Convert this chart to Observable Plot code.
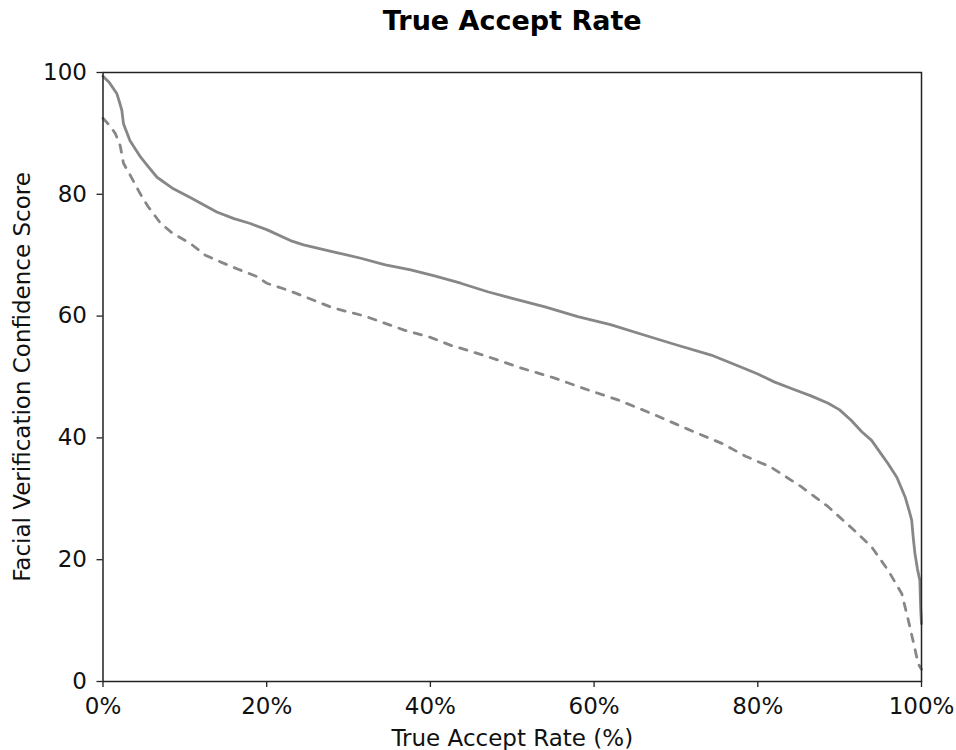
<!DOCTYPE html>
<html>
<head>
<meta charset="utf-8">
<script src="https://cdn.jsdelivr.net/npm/d3@7"></script>
<script src="https://cdn.jsdelivr.net/npm/@observablehq/plot@0.6"></script>
<style>
  html, body { margin: 0; padding: 0; background: #fff; }
  svg { font-family: "DejaVu Sans", sans-serif; }
</style>
</head>
<body>
<div id="chart"></div>
<script>
// Solid curve: x = true accept rate (%), y = confidence score
const solidX = [0, 0.8, 1.7, 2.0, 2.3, 2.5, 3.3, 4.6, 5.5, 6.6, 8.6, 10.6, 12.0, 13.9, 16.0, 18.0, 20.0, 22.9, 24.5, 28.0, 31.5, 34.5, 37.6, 40.5, 43.7, 47.0, 50.0, 54.0, 58.0, 62.0, 66.1, 70.0, 74.3, 78.0, 80.0, 82.0, 84.5, 86.5, 88.6, 90.0, 91.4, 92.7, 93.9, 95.0, 95.9, 97.0, 98.0, 98.5, 98.8, 99.0, 99.2, 99.5, 99.8, 99.9, 100];
const solidY = [99.4, 98.3, 96.5, 95.2, 93.8, 91.6, 88.8, 86.1, 84.6, 82.8, 80.9, 79.5, 78.5, 77.1, 76.0, 75.2, 74.2, 72.4, 71.7, 70.6, 69.5, 68.4, 67.6, 66.6, 65.4, 64.0, 62.9, 61.5, 59.9, 58.6, 56.9, 55.3, 53.6, 51.6, 50.5, 49.2, 47.9, 46.9, 45.7, 44.6, 42.9, 41.0, 39.6, 37.5, 35.8, 33.5, 30.3, 28.0, 26.5, 23.5, 21.0, 18.5, 16.6, 12.0, 9.5];

// Dashed curve
const dashedX = [0, 0.8, 1.5, 2.1, 2.5, 3.3, 4.5, 5.5, 7.0, 8.5, 10.6, 12.5, 14.7, 16.5, 18.8, 20.0, 22.5, 25.0, 28.2, 32.0, 36.8, 40.0, 42.5, 45.0, 48.0, 51.0, 55.0, 59.2, 63.0, 67.4, 71.5, 75.6, 78.5, 81.6, 85.3, 88.6, 91.8, 93.9, 95.9, 97.6, 98.4, 99.0, 99.6, 100];
const dashedY = [92.5, 91.3, 90.0, 88.0, 85.1, 83.2, 80.2, 78.0, 75.3, 73.6, 72.0, 70.0, 68.7, 67.7, 66.5, 65.4, 64.3, 63.0, 61.3, 60.0, 57.7, 56.5, 55.2, 54.2, 52.9, 51.5, 49.9, 47.9, 46.2, 43.8, 41.4, 39.1, 37.0, 35.2, 32.0, 28.7, 24.8, 22.1, 18.3, 14.4, 10.0, 6.5, 2.9, 2.0];

const xTicks = [0, 20, 40, 60, 80, 100];
const yTicks = [0, 20, 40, 60, 80, 100];

const titleText = "True Accept Rate";
const xLabel = "True Accept Rate (%)";
const yLabel = "Facial Verification Confidence Score";

const solid = solidX.map((x, i) => ({x, y: solidY[i]}));
const dashed = dashedX.map((x, i) => ({x, y: dashedY[i]}));

const chart = Plot.plot({
  width: 956,
  height: 750,
  marginLeft: 102.5,
  marginRight: 35,
  marginTop: 72,
  marginBottom: 69,
  style: {fontFamily: "DejaVu Sans, sans-serif", background: "#fff"},
  x: {domain: [0, 100]},
  y: {domain: [0, 100]},
  marks: [
    Plot.line(solid, {x: "x", y: "y", stroke: "#878787", strokeWidth: 2.8}),
    Plot.line(dashed, {x: "x", y: "y", stroke: "#878787", strokeWidth: 2.8, strokeDasharray: "7.5,8.5"}),
    Plot.frame({stroke: "#222", strokeWidth: 1.5}),
    Plot.axisX({ticks: xTicks, tickFormat: d => d + "%", tickSize: 6, tickPadding: 10, fontSize: 23, label: null, stroke: "#222", strokeWidth: 1.3, color: "#111"}),
    Plot.axisY({ticks: yTicks, tickSize: 6, tickPadding: 10, fontSize: 23, label: null, stroke: "#222", strokeWidth: 1.3, color: "#111"}),
    Plot.text([titleText], {frameAnchor: "top", lineAnchor: "middle", dy: -51, fontSize: 27, fontWeight: "bold", fill: "#000"}),
    Plot.text([xLabel], {frameAnchor: "bottom", lineAnchor: "middle", dy: 57, fontSize: 23, fill: "#111"}),
    Plot.text([yLabel], {frameAnchor: "left", textAnchor: "middle", lineAnchor: "middle", dx: -80, rotate: -90, fontSize: 23, fill: "#111"})
  ]
});
document.getElementById("chart").appendChild(chart);
</script>
</body>
</html>
